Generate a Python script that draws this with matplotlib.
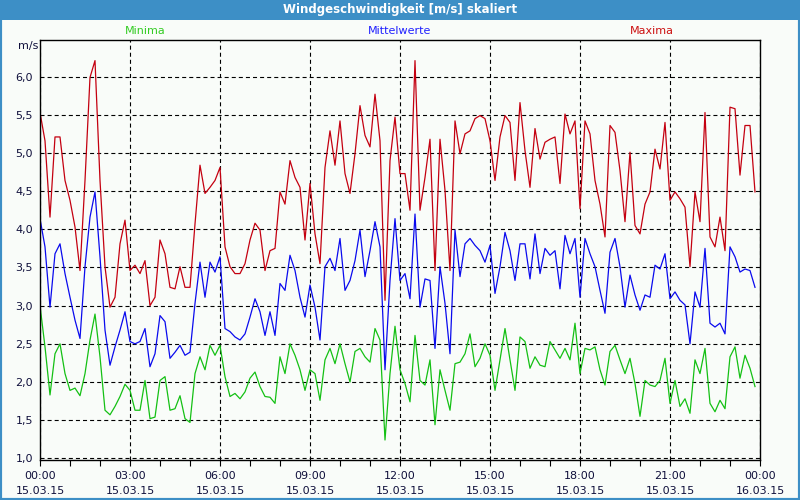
import numpy as np
import matplotlib.pyplot as plt
from matplotlib.patches import Rectangle
from matplotlib.ticker import FuncFormatter, MultipleLocator

# 10-minute values, 15.03.15 00:00 .. 23:50
maxima = [5.53, 5.16, 4.16, 5.21, 5.21, 4.64, 4.38, 4.03, 3.46, 4.64, 5.99, 6.21, 4.64, 3.51, 2.98, 3.11,
          3.81, 4.12, 3.46, 3.53, 3.42, 3.59, 3.0, 3.11, 3.86,
          3.68, 3.24, 3.22, 3.51, 3.24, 3.24, 4.07, 4.84, 4.47, 4.55, 4.64, 4.81, 3.77, 3.51, 3.42, 3.42,
          3.55, 3.86, 4.08, 3.99, 3.46, 3.72, 3.75, 4.49,
          4.33, 4.9, 4.68, 4.55, 3.86, 4.6, 3.94, 3.55, 4.81, 5.29, 4.84, 5.42, 4.73, 4.47, 4.99, 5.62,
          5.23, 5.08, 5.77, 5.16, 3.07, 4.9, 5.47, 4.73,
          4.73, 4.25, 6.21, 4.25, 4.68, 5.18, 3.46, 5.18, 4.51, 3.46, 5.42, 4.99, 5.25, 5.29, 5.45, 5.49,
          5.45, 5.16, 4.64, 5.21, 5.49, 5.4, 4.64, 5.66,
          5.03, 4.55, 5.32, 4.92, 5.14, 5.18, 5.21, 4.6, 5.51, 5.25, 5.42, 4.27, 5.42, 5.25, 4.64, 4.33,
          3.9, 5.36, 5.27, 4.77, 4.1, 5.01, 4.05, 3.94,
          4.33, 4.49, 5.05, 4.79, 5.4, 4.38, 4.49, 4.4, 4.29, 3.51, 4.49, 4.1, 5.53, 3.9, 3.77, 4.16,
          3.72, 5.6, 5.58, 4.71, 5.36, 5.36, 4.49]
mittel = [4.14, 3.77, 2.98, 3.68, 3.81, 3.42, 3.11, 2.81, 2.57, 3.51, 4.16, 4.49, 3.64, 2.68, 2.22, 2.46,
          2.68, 2.92, 2.53, 2.5, 2.53, 2.70, 2.2, 2.37, 2.87,
          2.79, 2.31, 2.39, 2.48, 2.35, 2.39, 3.03, 3.57, 3.11, 3.57, 3.44, 3.64, 2.7, 2.66, 2.59, 2.55,
          2.63, 2.85, 3.09, 2.92, 2.61, 2.92, 2.61, 3.29,
          3.2, 3.66, 3.46, 3.11, 2.85, 3.27, 2.98, 2.55, 3.51, 3.62, 3.46, 3.88, 3.2, 3.33, 3.59, 3.99,
          3.38, 3.72, 4.1, 3.77, 2.16, 3.33, 4.14, 3.33,
          3.42, 3.09, 4.2, 2.98, 3.35, 3.33, 2.44, 3.51, 3.03, 2.37, 3.99, 3.38, 3.81, 3.88, 3.79, 3.72,
          3.57, 3.79, 3.16, 3.51, 3.96, 3.72, 3.33, 3.81,
          3.81, 3.35, 3.94, 3.42, 3.75, 3.66, 3.72, 3.22, 3.92, 3.68, 3.88, 3.11, 3.88, 3.68, 3.51, 3.2,
          2.9, 3.7, 3.88, 3.51, 2.98, 3.4, 3.14, 2.94,
          3.14, 3.11, 3.53, 3.48, 3.68, 3.09, 3.18, 3.07, 3.01, 2.5, 3.18, 2.98, 3.75, 2.77, 2.72, 2.77,
          2.63, 3.77, 3.64, 3.44, 3.48, 3.46, 3.24]
minima = [3.0, 2.46, 1.83, 2.37, 2.5, 2.11, 1.89, 1.92, 1.82, 2.11, 2.55, 2.89, 2.33, 1.63, 1.57, 1.68,
          1.81, 1.97, 1.89, 1.63, 1.63, 2.02, 1.52, 1.54, 2.02,
          2.07, 1.63, 1.65, 1.82, 1.52, 1.47, 2.11, 2.33, 2.16, 2.48, 2.35, 2.48, 2.07, 1.81, 1.85, 1.78,
          1.87, 2.05, 2.13, 1.94, 1.81, 1.8, 1.72, 2.33,
          2.11, 2.5, 2.35, 2.16, 1.89, 2.16, 2.11, 1.76, 2.29, 2.44, 2.24, 2.5, 2.24, 2.0, 2.4, 2.44,
          2.33, 2.26, 2.7, 2.55, 1.24, 2.11, 2.73, 2.16,
          1.98, 1.74, 2.61, 2.02, 1.96, 2.29, 1.44, 2.16, 1.89, 1.63, 2.24, 2.26, 2.37, 2.63, 2.2, 2.31,
          2.5, 2.35, 1.89, 2.29, 2.7, 2.29, 1.89, 2.59,
          2.53, 2.18, 2.33, 2.22, 2.2, 2.53, 2.42, 2.31, 2.44, 2.29, 2.77, 2.11, 2.44, 2.42, 2.46, 2.16,
          1.96, 2.4, 2.48, 2.29, 2.11, 2.31, 1.98, 1.55,
          2.02, 1.96, 1.94, 2.02, 2.31, 1.72, 2.02, 1.68, 1.78, 1.59, 2.29, 2.11, 2.44, 1.72, 1.61, 1.76,
          1.65, 2.33, 2.46, 2.05, 2.35, 2.18, 1.94]

tick_hours = [0, 3, 6, 9, 12, 15, 18, 21, 24]
tick_labels = ['00:00\n15.03.15', '03:00\n15.03.15', '06:00\n15.03.15', '09:00\n15.03.15',
               '12:00\n15.03.15', '15:00\n15.03.15', '18:00\n15.03.15', '21:00\n15.03.15',
               '00:00\n16.03.15']

bar_blue = '#3d8fc6'
bg = '#f9fcf9'
txt = '#10103c'

plt.rcParams['lines.scale_dashes'] = False

fig = plt.figure(figsize=(8, 5), dpi=100)
fig.patch.set_facecolor(bg)
ax = fig.add_axes([0.05, 0.08, 0.9, 0.84])
ax.set_facecolor(bg)

for vals, col in [(maxima, '#c40010'), (mittel, '#0a0aee'), (minima, '#14c014')]:
    x = np.arange(len(vals)) / 6.0
    ax.plot(x, vals, color=col, linewidth=0.9)

ax.set_xlim(0, 24)
ax.set_ylim(0.978, 6.48)
ax.set_xticks(tick_hours)
ax.set_xticklabels(tick_labels, linespacing=1.55)
ax.xaxis.set_minor_locator(MultipleLocator(1))
ax.yaxis.set_major_locator(MultipleLocator(0.5))
ax.yaxis.set_major_formatter(FuncFormatter(lambda v, p: f'{v:.1f}'.replace('.', ',')))
ax.tick_params(axis='x', which='both', direction='out', length=4, width=0.8, colors='black',
               labelcolor=txt, labelsize=8, pad=4)
ax.tick_params(axis='y', length=0, labelcolor=txt, labelsize=8, pad=5)
ax.grid(True, which='major', color='black', linestyle=(0, (2.9, 2.2)), linewidth=0.8)
for s in ax.spines.values():
    s.set_color('black')
    s.set_linewidth(1.0)

# title bar and frame
fig.add_artist(Rectangle((0, 1 - 20 / 500), 1, 20 / 500, transform=fig.transFigure,
                         facecolor=bar_blue, edgecolor='none'))
fig.add_artist(Rectangle((0, 0), 1, 1, transform=fig.transFigure, fill=False,
                         edgecolor=bar_blue, linewidth=3))
fig.text(0.5, 1 - 10 / 500, 'Windgeschwindigkeit [m/s] skaliert', color='white',
         fontsize=8.5, fontweight='bold', ha='center', va='center')

fig.text(145 / 800, 1 - 31 / 500, 'Minima', color='#33cc22', fontsize=8, ha='center', va='center')
fig.text(400 / 800, 1 - 31 / 500, 'Mittelwerte', color='#2020ff', fontsize=8, ha='center', va='center')
fig.text(652 / 800, 1 - 31 / 500, 'Maxima', color='#cc1010', fontsize=8, ha='center', va='center')
fig.text(28 / 800, 1 - 46 / 500, 'm/s', color=txt, fontsize=8, ha='center', va='center')

fig.savefig('out.png', dpi=100, facecolor=bg)
